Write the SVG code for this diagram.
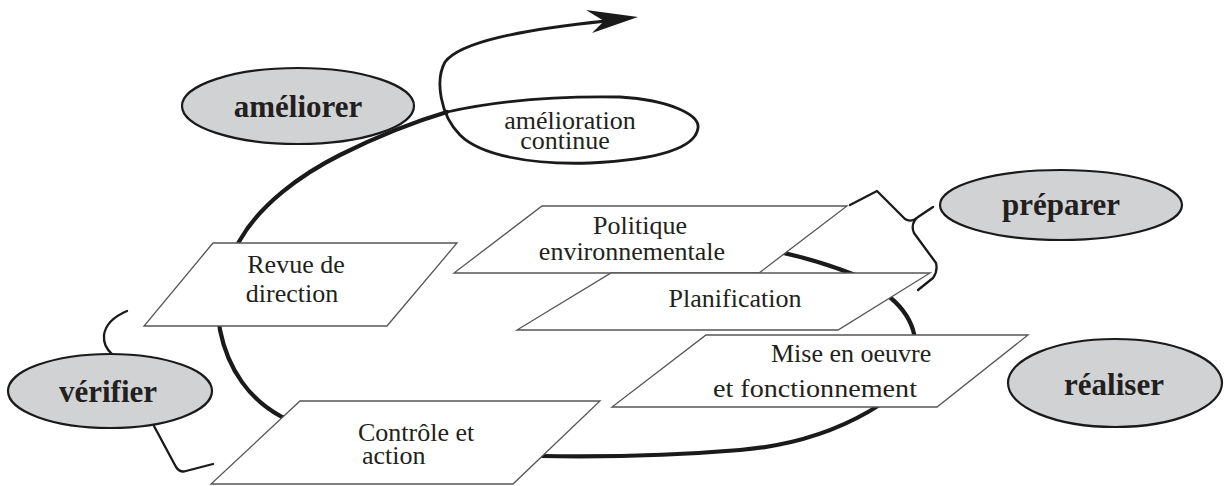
<svg xmlns="http://www.w3.org/2000/svg" width="1224" height="486" viewBox="0 0 1224 486">
<style>
.box{fill:#fff;stroke:#555;stroke-width:1.3}
.oval{fill:#d1d2d4;stroke:#1a1a1a;stroke-width:2.2}
text{font-family:'Liberation Serif','Times New Roman',Tinos,'DejaVu Serif',serif;fill:#231f20}
.lbl{font-weight:bold;font-size:31px;text-anchor:middle}
.txt{font-size:26px}
.mid{text-anchor:middle}
.sp{fill:none;stroke:#1a1a1a;stroke-linecap:round}
.br{fill:none;stroke:#1a1a1a;stroke-width:2.3;stroke-linejoin:round;stroke-linecap:round}
</style>
<rect width="1224" height="486" fill="#fff"/>
<g id="connectors">
<path class="sp" stroke-width="4.2" d="M770,250 C800,256 830,265 855,275 C885,290 912,310 915,340 C916,365 900,395 868,412 C840,428 800,445 740,450 C680,455 600,457 540,456 C450,455 340,440 282,417 C250,400 228,370 220,330 C215,300 225,265 240,240 C260,205 300,175 340,155 C380,135 420,120 447,112"/>
<path class="sp" stroke-width="2.8" d="M447,112 C500,100 560,96 620,97 C670,100 700,115 698,128 C695,150 650,160 590,163 C530,165 480,155 460,135 C440,115 435,80 445,62 C460,42 520,30 606,21"/>
<polygon points="586,10 638,17 592,33 604,21" fill="#1a1a1a"/>
<path class="br" d="M850,205 L877,191 L905,219 Q911,223 918,217 L933,207 M918,217 Q910,224 914,233 L936,263 Q938,271 933,278 L918,290"/>
<path class="br" d="M127,311 Q106,320 104,335 Q103,346 112,354 M154,426 L176,467 Q180,473 186,471 L213,464"/>
</g>
<g id="ameliorer"><ellipse class="oval" cx="298" cy="106" rx="116" ry="38"/><text class="lbl" x="298" y="117">améliorer</text></g>
<g id="preparer"><ellipse class="oval" cx="1061" cy="205" rx="121" ry="35"/><text class="lbl" x="1061" y="215">préparer</text></g>
<g id="realiser"><ellipse class="oval" cx="1115" cy="383" rx="107" ry="44"/><text class="lbl" x="1114" y="395">réaliser</text></g>
<g id="verifier"><ellipse class="oval" cx="110" cy="391" rx="102" ry="37"/><text class="lbl" x="108" y="402">vérifier</text></g>
<g id="amelioration-continue"><text class="txt mid" x="570" y="129">amélioration</text><text class="txt mid" x="565" y="149">continue</text></g>
<g id="revue"><polygon class="box" points="213,243 457,243 387,326 144,326"/><text class="txt mid" x="296" y="273">Revue de</text><text class="txt mid" x="292" y="302">direction</text></g>
<g id="politique"><polygon class="box" points="542,206 847,206 759,273 454,273"/><text class="txt mid" x="640" y="234">Politique</text><text class="txt mid" x="632" y="260">environnementale</text></g>
<g id="planification"><polygon class="box" points="611,273 930,273 838,330 517,330"/><text class="txt mid" x="735" y="307">Planification</text></g>
<g id="mise"><polygon class="box" points="706,335 1028,335 937,407 612,407"/><text class="txt" x="771" y="362">Mise en oeuvre</text><text class="txt" x="713" y="397" textLength="204" lengthAdjust="spacingAndGlyphs">et fonctionnement</text></g>
<g id="controle"><polygon class="box" points="300,401 600,401 513,484 211,484"/><text class="txt" x="358" y="441">Contrôle et</text><text class="txt" x="362" y="464">action</text></g>
</svg>
